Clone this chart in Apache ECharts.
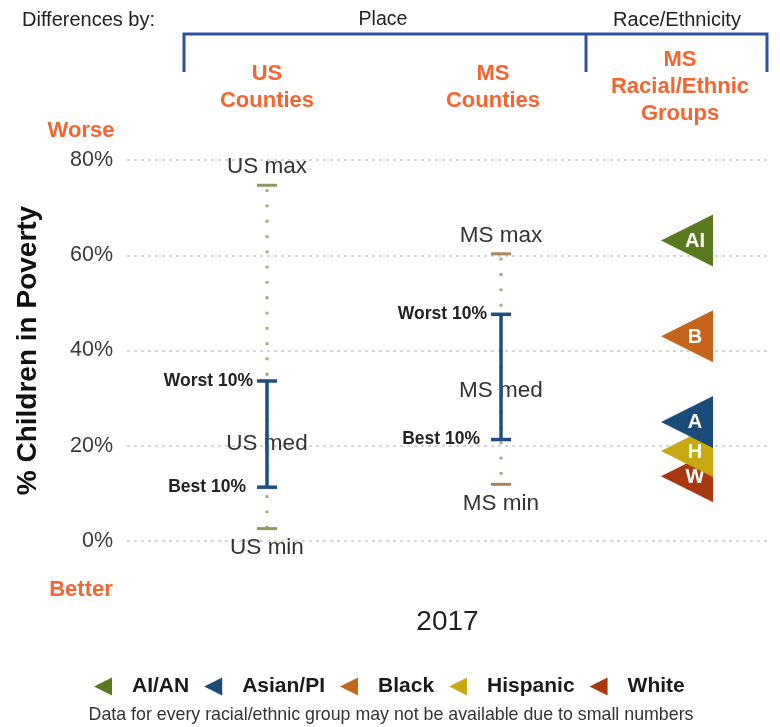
<!DOCTYPE html>
<html>
<head>
<meta charset="utf-8">
<script src="https://cdn.jsdelivr.net/npm/echarts@6/dist/echarts.min.js"></script>
<style>
  html, body { margin: 0; padding: 0; background: #fff; }
  #chart { width: 780px; height: 727px; }
</style>
</head>
<body>
<div id="chart"></div>
<script>
// ---- data ----
const yearCats = ['2017'];
const yTicks = [0, 20, 40, 60, 80];

const placeCats = ['US\nCounties', 'MS\nCounties'];
const placeKeys = ['US', 'MS'];
const minVals   = [2.6, 11.9];
const best10    = [11.3, 21.3];
const medVals   = [20.5, 31.5];
const worst10   = [33.6, 47.6];
const maxVals   = [74.7, 60.3];

const raceCats   = ['MS\nRacial/Ethnic\nGroups'];
const raceGroups = ['AI/AN', 'Asian/PI', 'Black', 'Hispanic', 'White'];
const raceAbbr   = ['AI', 'A', 'B', 'H', 'W'];
const raceVals   = [63.1, 25.0, 43.0, 18.9, 13.6];

// ---- styles ----
const FONT = '"Liberation Sans", Arial, sans-serif';
const ORANGE = '#f4652f';
const raceColors = ['#5b7a1f', '#1b4b79', '#c5651b', '#c9a911', '#a8380f'];
const raceZ = [5, 6, 5, 4, 3];
const dotColors = ['#a3a96f', '#bb9d74'];
const tickColors = ['#8f9a5a', '#a8865c'];
const BLUE = '#1f4e80';
const TRI = 'path://M0,5 L10,0 L10,10 Z';

const chart = echarts.init(document.getElementById('chart'), null, { renderer: 'canvas' });

const placeData = placeCats.map((c, i) => [i, minVals[i], best10[i], medVals[i], worst10[i], maxVals[i]]);

function renderRange(params, api) {
  const i = api.value(0);
  const lo = api.value(1), b = api.value(2), md = api.value(3), w = api.value(4), hi = api.value(5);
  const x = api.coord([i, lo])[0];
  const Y = v => api.coord([i, v])[1];
  const key = placeKeys[params.dataIndex];
  const dc = dotColors[params.dataIndex], tc = tickColors[params.dataIndex];
  const txt = (t, tx, ty, opt) => ({
    type: 'text', x: tx, y: ty, z2: 5,
    style: Object.assign({ text: t, fontFamily: FONT, fontSize: 22.5, fill: '#333', align: 'center', verticalAlign: 'middle' }, opt || {})
  });
  return {
    type: 'group',
    children: [
      { type: 'line', shape: { x1: x, y1: Y(hi) + 4, x2: x, y2: Y(lo) }, style: { stroke: dc, lineWidth: 3, lineDash: [2.8, 12.5] } },
      { type: 'line', shape: { x1: x - 10, y1: Y(hi), x2: x + 10, y2: Y(hi) }, style: { stroke: tc, lineWidth: 3 } },
      { type: 'line', shape: { x1: x - 10, y1: Y(lo), x2: x + 10, y2: Y(lo) }, style: { stroke: tc, lineWidth: 3 } },
      txt(key + ' med', x, Y(md)),
      { type: 'line', z2: 10, shape: { x1: x, y1: Y(w), x2: x, y2: Y(b) }, style: { stroke: BLUE, lineWidth: 3.5 } },
      { type: 'line', z2: 10, shape: { x1: x - 10, y1: Y(w), x2: x + 10, y2: Y(w) }, style: { stroke: BLUE, lineWidth: 3.5 } },
      { type: 'line', z2: 10, shape: { x1: x - 10, y1: Y(b), x2: x + 10, y2: Y(b) }, style: { stroke: BLUE, lineWidth: 3.5 } },
      txt(key + ' max', x, Y(hi) - 18),
      txt(key + ' min', x, Y(lo) + 19),
      txt('Worst 10%', x - 14, Y(w), { align: 'right', fontSize: 17.5, fontWeight: 'bold', fill: '#222' }),
      txt('Best 10%', x - 21, Y(b), { align: 'right', fontSize: 17.5, fontWeight: 'bold', fill: '#222' })
    ]
  };
}

const hiddenY = (gi) => ({ type: 'value', gridIndex: gi, min: 0, max: 80, interval: 20, show: false });
const headerRich = (pad) => ({ fontFamily: FONT, fontSize: 22, fontWeight: 'bold', color: ORANGE, lineHeight: 27, padding: pad });

const raceSeries = raceGroups.map((g, k) => ({
  name: g,
  type: 'scatter',
  xAxisIndex: 2, yAxisIndex: 2,
  data: [[0, raceVals[k]]],
  symbol: TRI,
  symbolSize: 52,
  z: raceZ[k],
  itemStyle: { color: raceColors[k], opacity: 1 },
  label: {
    show: true, position: 'inside', offset: [8, 1],
    formatter: raceAbbr[k],
    color: '#fff', fontFamily: FONT, fontSize: 20, fontWeight: 'bold'
  },
  emphasis: { disabled: true }
}));

const option = {
  animation: false,
  textStyle: { fontFamily: FONT },
  grid: [
    { left: 127, right: 12, top: 160, bottom: 186 },
    { left: 150, right: 162, top: 160, bottom: 186 },
    { left: 640, right: 46, top: 160, bottom: 186 }
  ],
  xAxis: [
    { type: 'category', gridIndex: 0, data: yearCats, axisLine: { show: false }, axisTick: { show: false },
      axisLabel: { fontSize: 28, color: '#222', margin: 67, fontFamily: FONT } },
    { type: 'category', gridIndex: 1, data: placeCats, position: 'top', axisLine: { show: false }, axisTick: { show: false },
      axisLabel: { margin: 46, interval: 0,
        formatter: (v, idx) => v.split('\n').map(s => '{' + (idx === 1 ? 'b' : 'a') + '|' + s + '}').join('\n'),
        rich: { a: headerRich([0, 0, 0, 0]), b: headerRich([0, 16, 0, 0]) } } },
    { type: 'category', gridIndex: 2, data: raceCats, position: 'top', axisLine: { show: false }, axisTick: { show: false },
      axisLabel: { margin: 33, interval: 0,
        formatter: (v) => v.split('\n').map(s => '{c|' + s + '}').join('\n'),
        rich: { c: headerRich([0, 14, 0, 0]) } } }
  ],
  yAxis: [
    { type: 'value', gridIndex: 0, min: yTicks[0], max: yTicks[yTicks.length - 1], interval: 20,
      axisLine: { show: false }, axisTick: { show: false },
      axisLabel: { formatter: '{value}%', fontSize: 21.5, color: '#3a3a3a', margin: 14, fontFamily: FONT },
      splitLine: { show: true, lineStyle: { color: '#c9c9c9', width: 1.5, type: [3, 4] } },
      name: '% Children in Poverty', nameLocation: 'middle', nameGap: 85, nameRotate: 90,
      nameTextStyle: { fontSize: 28, fontWeight: 'bold', color: '#111', fontFamily: FONT } },
    hiddenY(1),
    hiddenY(2)
  ],
  legend: {
    data: raceGroups.map((g, k) => ({ name: g, icon: TRI })),
    left: 89, top: 671, itemWidth: 18, itemHeight: 18, itemGap: 15,
    selectedMode: false,
    textStyle: { fontSize: 21, fontWeight: 'bold', color: '#1a1a1a', fontFamily: FONT, padding: [0, 0, 0, 15] }
  },
  graphic: [
    { type: 'text', left: 22, top: 10, style: { text: 'Differences by:', fontSize: 20, fill: '#222', fontFamily: FONT } },
    { type: 'text', x: 383, y: 20, style: { text: 'Place', fontSize: 19.5, fill: '#222', fontFamily: FONT, align: 'center', verticalAlign: 'middle' } },
    { type: 'text', x: 677, y: 20, style: { text: 'Race/Ethnicity', fontSize: 20, fill: '#222', fontFamily: FONT, align: 'center', verticalAlign: 'middle' } },
    { type: 'polyline', shape: { points: [[184, 72], [184, 34], [767, 34], [767, 72]] }, style: { stroke: '#2f52a0', lineWidth: 3, fill: null } },
    { type: 'line', shape: { x1: 586, y1: 34, x2: 586, y2: 72 }, style: { stroke: '#2f52a0', lineWidth: 3 } },
    { type: 'text', x: 81, y: 131, style: { text: 'Worse', fontSize: 22, fontWeight: 'bold', fill: ORANGE, fontFamily: FONT, align: 'center', verticalAlign: 'middle' } },
    { type: 'text', x: 81, y: 590, style: { text: 'Better', fontSize: 22, fontWeight: 'bold', fill: ORANGE, fontFamily: FONT, align: 'center', verticalAlign: 'middle' } },
    { type: 'text', x: 391, y: 715, style: { text: 'Data for every racial/ethnic group may not be available due to small numbers', fontSize: 17.8, fill: '#333', fontFamily: FONT, align: 'center', verticalAlign: 'middle' } }
  ],
  series: [
    { type: 'custom', name: 'ranges', xAxisIndex: 1, yAxisIndex: 1, data: placeData, renderItem: renderRange, z: 3, silent: true }
  ].concat(raceSeries)
};

chart.setOption(option);
</script>
</body>
</html>
